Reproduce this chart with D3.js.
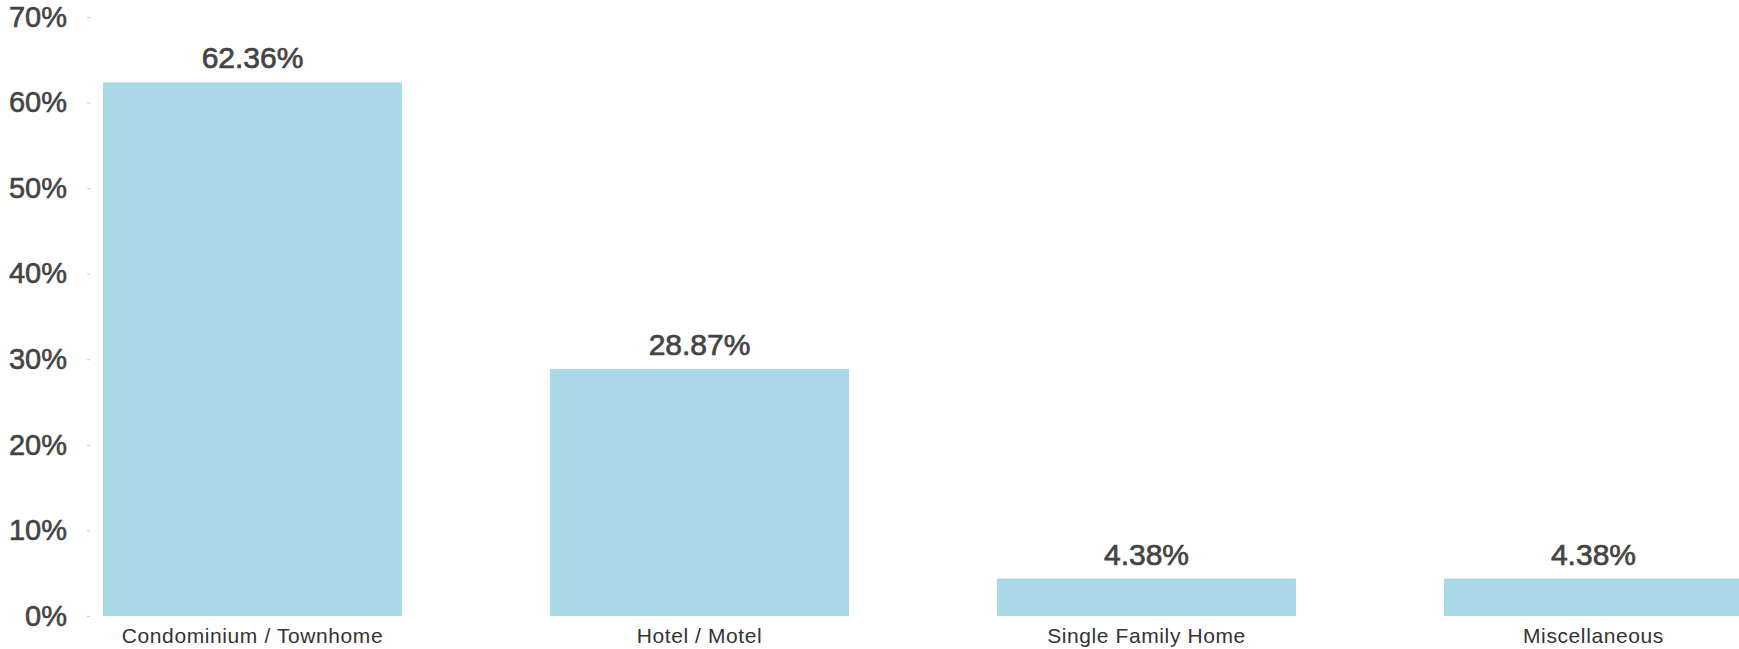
<!DOCTYPE html>
<html>
<head>
<meta charset="utf-8">
<script src="https://cdn.jsdelivr.net/npm/d3@7"></script>
<style>
  html, body { margin: 0; padding: 0; background: #ffffff; overflow: hidden; }
  svg { display: block; }
</style>
</head>
<body>
<svg id="chart" width="1739" height="649"></svg>
<script>
// Share of listings by property type
const categories = ["Condominium / Townhome", "Hotel / Motel", "Single Family Home", "Miscellaneous"];
const shares = [62.36, 28.87, 4.38, 4.38];
const yTicks = [0, 10, 20, 30, 40, 50, 60, 70];

const svg = d3.select("#chart");

const x = d3.scaleBand()
  .domain(categories)
  .range([103, 1743])
  .paddingInner(0.331)
  .paddingOuter(0);

const y = d3.scaleLinear()
  .domain([0, 70])
  .range([616, 17]);

// y axis: short light ticks, no domain line
const yAxis = d3.axisLeft(y)
  .tickValues(yTicks)
  .tickSize(3)
  .tickPadding(20)
  .tickFormat(d => d + "%");

const gy = svg.append("g")
  .attr("transform", "translate(90,0)")
  .call(yAxis);
gy.select(".domain").remove();
gy.selectAll(".tick line").attr("stroke", "#cccccc");
gy.selectAll(".tick text")
  .attr("fill", "#444444")
  .attr("stroke", "#444444")
  .attr("stroke-width", 0.6)
  .style("font-family", "'Liberation Sans', Arial, sans-serif")
  .style("font-size", "29px");

const data = categories.map((c, i) => ({ category: c, value: shares[i] }));

// bars
svg.append("g")
  .selectAll("rect")
  .data(data)
  .join("rect")
  .attr("x", d => x(d.category))
  .attr("y", d => y(d.value))
  .attr("width", x.bandwidth())
  .attr("height", d => y(0) - y(d.value))
  .attr("fill", "#aad9e7");

// value labels above bars
svg.append("g")
  .selectAll("text")
  .data(data)
  .join("text")
  .attr("x", d => x(d.category) + x.bandwidth() / 2)
  .attr("y", d => y(d.value) - 14)
  .attr("text-anchor", "middle")
  .attr("fill", "#444444")
  .attr("stroke", "#444444")
  .attr("stroke-width", 0.7)
  .style("font-family", "'Liberation Sans', Arial, sans-serif")
  .style("font-size", "30px")
  .text(d => d.value.toFixed(2) + "%");

// category labels under bars
svg.append("g")
  .selectAll("text")
  .data(data)
  .join("text")
  .attr("x", d => x(d.category) + x.bandwidth() / 2)
  .attr("y", 643)
  .attr("text-anchor", "middle")
  .attr("fill", "#333333")
  .style("font-family", "'Liberation Sans', Arial, sans-serif")
  .style("font-size", "21px")
  .style("letter-spacing", "0.6px")
  .text(d => d.category);
</script>
</body>
</html>
